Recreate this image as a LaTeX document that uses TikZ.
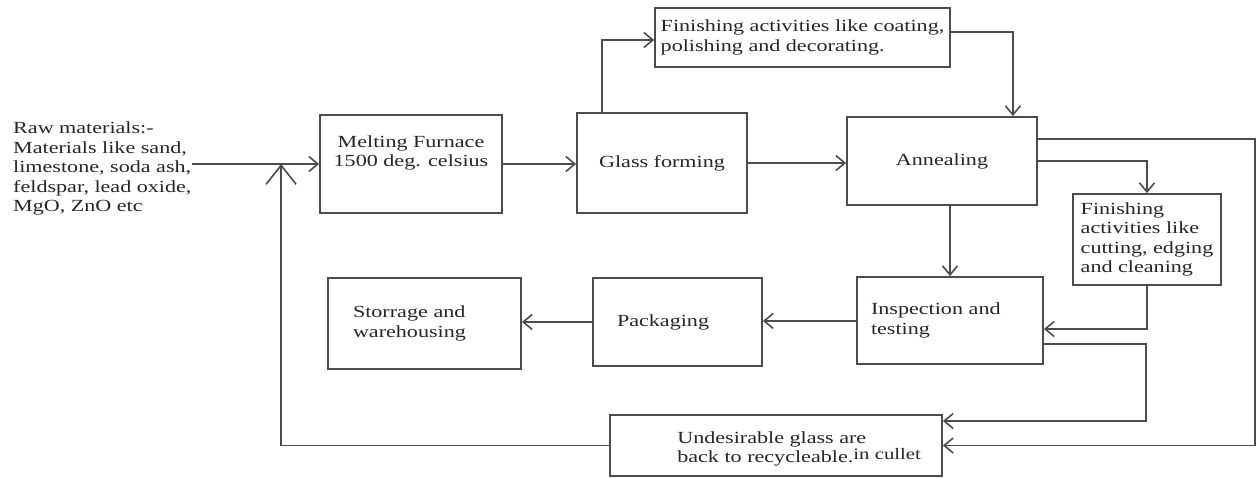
\documentclass[tikz,border=0pt]{standalone}
\usepackage{fontspec}
\setmainfont{Liberation Serif}[FakeStretch=1.3]
\usepackage{tikz}
\usetikzlibrary{arrows.meta}

\tikzset{
  stage/.style={draw=black!70, line width=1.8pt, text=black!85, align=left,
    font=\fontsize{17}{19.5}\selectfont},
  words/.style={text=black!85, align=left, inner sep=0pt,
    font=\fontsize{17}{19.5}\selectfont},
  flow/.style={draw=black!70, line width=1.8pt,
    -{Straight Barb[length=9pt, width=15pt, line width=1.6pt]}},
  bigflow/.style={flow, -{Straight Barb[length=19pt, width=30pt, line width=1.6pt]}}
}

\begin{document}
\begin{tikzpicture}[x=1pt, y=-1pt]

    \useasboundingbox (0,0) rectangle (1258,479);

    % Raw material input
    \node[words, anchor=west] (raw) at (13,168.5)
      {Raw materials:-\\Materials like sand,\\limestone, soda ash,\\feldspar, lead oxide,\\MgO, ZnO etc};

    % Main line
    \node[stage, minimum width=182pt, minimum height=98pt, align=center] (melt) at (411,164)
      {Melting Furnace\\1500 deg. celsius\\[6pt]};
    \node[stage, minimum width=170pt, minimum height=100pt] (form) at (662,163) {Glass forming};
    \node[stage, minimum width=190pt, minimum height=88pt] (ann) at (942,161) {Annealing};

    % Finishing steps
    \node[stage, minimum width=295pt, minimum height=59pt] (coat) at (802.5,37.5)
      {Finishing activities like coating,\\polishing and decorating.};
    \node[stage, minimum width=148pt, minimum height=91pt] (cut) at (1147,239.5)
      {Finishing\\activities like\\cutting, edging\\and cleaning};

    % Lower line
    \node[stage, text width=158pt, inner xsep=14pt, minimum height=87pt] (insp) at (950,320.5)
      {Inspection and\\testing};
    \node[stage, text width=121pt, inner xsep=24pt, minimum height=88pt] (pack) at (677.5,322)
      {Packaging};
    \node[stage, text width=143pt, inner xsep=25pt, minimum height=91pt] (stor) at (424.5,323.5)
      {Storrage and\\warehousing};

    % Cullet return
    \node[stage, minimum width=332pt, minimum height=61pt] (recyc) at (776,445.5) {};
    \node[words, anchor=west] (recyc-text) at ([xshift=68pt, yshift=-3.5pt]recyc.west)
      {Undesirable glass are\\back to recycleable.\raisebox{3pt}{\fontsize{16}{16}\selectfont in cullet}};

    \coordinate (join) at ([xshift=-38pt]melt.west);
    \coordinate (rim) at (1255,300);

    % Arrows
    \draw[flow] (raw.east |- melt.west) -- (melt.west);
    \draw[flow] (melt.east) -- (melt.east -| form.west);
    \draw[flow] (form.east) -- (form.east -| ann.west);
    \draw[flow] ([xshift=26pt]form.north west) |- ([yshift=-2.5pt]coat.west);
    \draw[flow] ([yshift=5.5pt]coat.east) -| ([xshift=-25pt]ann.north east);
    \draw[flow] (insp.north |- ann.south) -- (insp.north);
    \draw[flow] (ann.east) -| (cut.north);
    \draw[flow] ([yshift=22pt]ann.east) -| (rim) |- (recyc.east);
    \draw[flow] (cut.south) |- ([yshift=-8.5pt]insp.east);
    \draw[flow] ([yshift=-23.5pt]insp.east) -- ++(102,0) |- ([yshift=24.5pt]recyc.east);
    \draw[flow] ([yshift=-0.5pt]insp.west) -- ([yshift=-0.5pt]insp.west -| pack.east);
    \draw[flow] (pack.west) -- (pack.west -| stor.east);
    \draw[bigflow] (recyc.west) -| (join);

\end{tikzpicture}
\end{document}
